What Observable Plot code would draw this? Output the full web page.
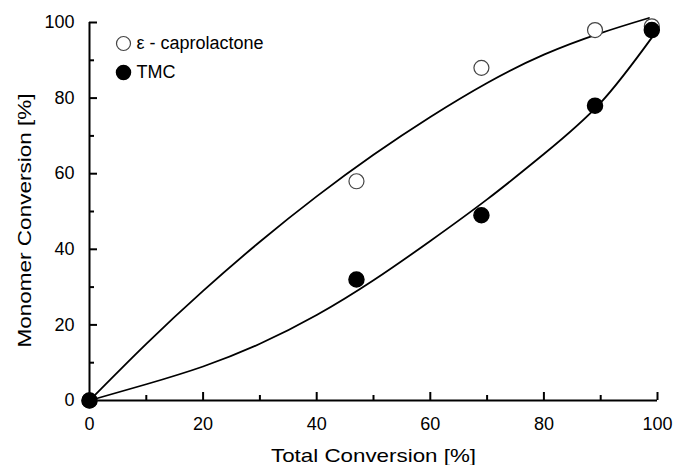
<!DOCTYPE html>
<html><head><meta charset="utf-8">
<script src="https://cdn.jsdelivr.net/npm/d3@7"></script>
<script src="https://cdn.jsdelivr.net/npm/@observablehq/plot@0.6"></script>
<style>body{margin:0;background:#fff}</style>
</head><body><div id="chart"></div>
<script>
// Measured data
const totalConversion = [0, 47, 69, 89, 99];
const caprolactoneConv = [0, 58, 88, 98, 99];
const tmcConv = [0, 32, 49, 78, 98];
// Fitted curves
const fitClX = [0, 10, 20, 30, 40, 50, 60, 70, 80, 90, 98.5];
const fitClY = [0, 15.0, 29.0, 42.0, 54.0, 65.0, 75.0, 84.0, 91.5, 97.2, 101.2];
const fitTmcX = [0, 10, 20, 30, 40, 50, 60, 70, 80, 90, 99];
const fitTmcY = [0, 4.3, 9.0, 15.0, 22.6, 31.8, 42.2, 53.2, 65.2, 78.8, 96.0];
// Ticks
const xTicksMajor = [0, 20, 40, 60, 80, 100];
const xTicksMinor = [10, 30, 50, 70, 90];
const yTicksMajor = [0, 20, 40, 60, 80, 100];
const yTicksMinor = [10, 30, 50, 70, 90];
const legendLabels = ["ε - caprolactone", "TMC"];
const xTitle = "Total Conversion [%]";
const yTitle = "Monomer Conversion [%]";

const clPts = totalConversion.map((x, i) => ({x, y: caprolactoneConv[i]}));
const tmcPts = totalConversion.map((x, i) => ({x, y: tmcConv[i]}));
const clFit = fitClX.map((x, i) => ({x, y: fitClY[i]}));
const tmcFit = fitTmcX.map((x, i) => ({x, y: fitTmcY[i]}));

const chart = Plot.plot({
  width: 675,
  height: 465,
  marginLeft: 89,
  marginRight: 18,
  marginTop: 22,
  marginBottom: 65,
  style: {fontFamily: "'Liberation Sans', Arial, sans-serif", fontSize: "18px", background: "white", color: "black"},
  x: {domain: [0, 100]},
  y: {domain: [0, 100]},
  marks: [
    Plot.line(clFit, {x: "x", y: "y", curve: "natural", stroke: "black", strokeWidth: 1.8}),
    Plot.line(tmcFit, {x: "x", y: "y", curve: "natural", stroke: "black", strokeWidth: 1.8}),
    Plot.ruleY([0], {stroke: "black", strokeWidth: 2}),
    Plot.ruleX([0], {stroke: "black", strokeWidth: 2}),
    Plot.axisX(xTicksMajor, {tickSize: -8, tickFormat: () => "", label: null, strokeWidth: 2}),
    Plot.axisX(xTicksMinor, {tickSize: -5, tickFormat: () => "", label: null, strokeWidth: 2}),
    Plot.axisX(xTicksMajor, {tickSize: 0, tickPadding: 17, label: null, fontSize: 18}),
    Plot.axisY(yTicksMajor, {tickSize: -8, tickFormat: () => "", label: null, strokeWidth: 2}),
    Plot.axisY(yTicksMinor, {tickSize: -5, tickFormat: () => "", label: null, strokeWidth: 2}),
    Plot.axisY(yTicksMajor, {tickSize: 0, tickPadding: 15, label: null, fontSize: 18}),
    Plot.dot(clPts, {x: "x", y: "y", r: 7.5, fill: "white", stroke: "#444", strokeWidth: 1.2}),
    Plot.dot(tmcPts, {x: "x", y: "y", r: 7.5, fill: "black", stroke: "black"}),
    Plot.dot([legendLabels[0]], {frameAnchor: "top-left", dx: 34, dy: 21, r: 7, fill: "white", stroke: "#444", strokeWidth: 1.2}),
    Plot.dot([legendLabels[1]], {frameAnchor: "top-left", dx: 34, dy: 50, r: 7, fill: "black", stroke: "black"}),
    Plot.text([legendLabels[0]], {text: d => d, frameAnchor: "top-left", dx: 47, dy: 21, textAnchor: "start", lineAnchor: "middle", fontSize: 18}),
    Plot.text([legendLabels[1]], {text: d => d, frameAnchor: "top-left", dx: 47, dy: 50, textAnchor: "start", lineAnchor: "middle", fontSize: 18}),
    Plot.text([xTitle], {text: d => d, frameAnchor: "bottom", dy: 55, textAnchor: "middle", lineAnchor: "middle", fontSize: 19, className: "xtitle"}),
    Plot.text([yTitle], {text: d => d, frameAnchor: "left", dx: -65, dy: 9, rotate: -90, textAnchor: "middle", lineAnchor: "middle", fontSize: 19, className: "ytitle"})
  ]
});
document.getElementById("chart").appendChild(chart);
chart.querySelectorAll(".xtitle text").forEach(t => { t.setAttribute("textLength", 205); t.setAttribute("lengthAdjust", "spacingAndGlyphs"); });
chart.querySelectorAll(".ytitle text").forEach(t => { t.setAttribute("textLength", 254); t.setAttribute("lengthAdjust", "spacingAndGlyphs"); });
</script>
</body></html>
